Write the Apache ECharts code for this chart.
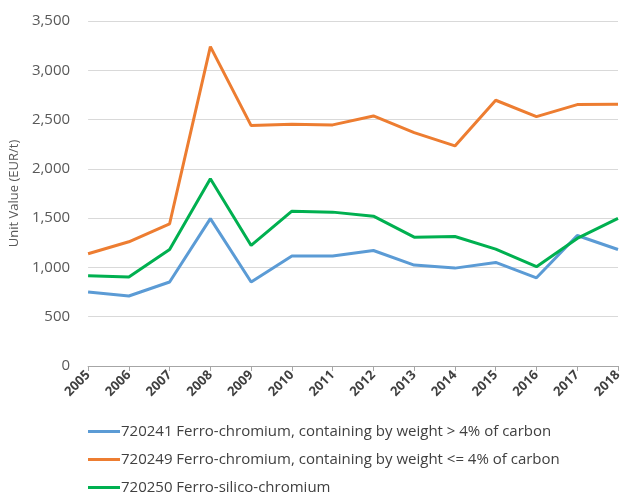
<!DOCTYPE html>
<html>
<head>
<meta charset="utf-8">
<script src="https://cdn.jsdelivr.net/npm/echarts@6/dist/echarts.min.js"></script>
<style>
  html, body { margin: 0; padding: 0; background: #fff; }
  #chart { width: 631px; height: 497px; }
</style>
</head>
<body>
<div id="chart"></div>
<script>
var years = ['2005', '2006', '2007', '2008', '2009', '2010', '2011', '2012', '2013', '2014', '2015', '2016', '2017', '2018'];
var seriesNames = [
    '720241 Ferro-chromium, containing by weight > 4% of carbon',
    '720249 Ferro-chromium, containing by weight <= 4% of carbon',
    '720250 Ferro-silico-chromium'
];
var highCarbon = [750, 710, 852, 1495, 852, 1115, 1115, 1172, 1024, 993, 1051, 895, 1324, 1182];
var lowCarbon = [1139, 1260, 1443, 3240, 2439, 2453, 2446, 2537, 2368, 2233, 2696, 2530, 2652, 2655];
var silico = [916, 902, 1182, 1900, 1223, 1571, 1561, 1520, 1307, 1314, 1186, 1007, 1294, 1497];
var colors = ['#5B9BD5', '#ED7D31', '#00B050'];

var font = 'Open Sans';
var chart = echarts.init(document.getElementById('chart'));

function mkLine(name, data, color) {
    return {
        name: name,
        type: 'line',
        data: data,
        symbol: 'none',
        lineStyle: { width: 3, color: color },
        itemStyle: { color: color },
        z: 3
    };
}

var option = {
    animation: false,
    textStyle: { fontFamily: font },
    grid: { left: 88, right: 13, top: 21, bottom: 131 },
    xAxis: {
        type: 'category',
        data: years,
        boundaryGap: false,
        axisLine: { lineStyle: { color: '#A6A6A6', width: 1 } },
        axisTick: { show: true, length: 5, lineStyle: { color: '#A6A6A6' } },
        axisLabel: {
            rotate: 45,
            interval: 0,
            color: '#404040',
            fontSize: 13,
            fontWeight: 'bold',
            fontFamily: font,
            margin: 7
        }
    },
    yAxis: {
        type: 'value',
        min: 0,
        max: 3500,
        interval: 500,
        name: 'Unit Value (EUR/t)',
        nameLocation: 'middle',
        nameGap: 58,
        nameRotate: 90,
        nameTextStyle: { color: '#595959', fontSize: 13, fontFamily: font },
        axisLine: { show: false },
        axisTick: { show: false },
        splitLine: { lineStyle: { color: '#D9D9D9', width: 1 } },
        axisLabel: {
            color: '#595959',
            fontSize: 15,
            fontFamily: font,
            margin: 18,
            formatter: function (v) { return v.toLocaleString('en-US'); }
        }
    },
    legend: {
        orient: 'vertical',
        left: 88,
        top: 423,
        height: 74,
        padding: 0,
        icon: 'rect',
        itemWidth: 32,
        itemHeight: 3,
        itemGap: 11,
        textStyle: { color: '#404040', fontSize: 15, fontFamily: font, lineHeight: 17, padding: [0, 0, 0, -4] },
        data: seriesNames
    },
    series: [
        mkLine(seriesNames[0], highCarbon, colors[0]),
        mkLine(seriesNames[1], lowCarbon, colors[1]),
        mkLine(seriesNames[2], silico, colors[2])
    ]
};
chart.setOption(option);
</script>
</body>
</html>
